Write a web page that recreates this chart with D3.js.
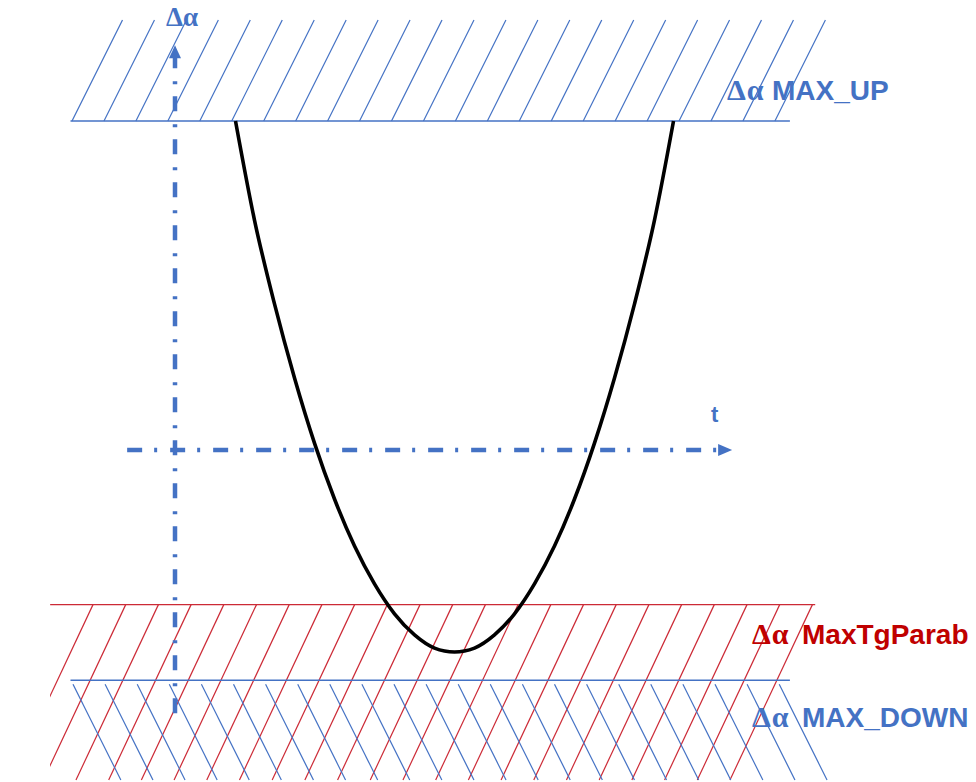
<!DOCTYPE html>
<html>
<head>
<meta charset="utf-8">
<script src="https://cdn.jsdelivr.net/npm/d3@7"></script>
<style>
  body { margin: 0; background: #fff; }
</style>
</head>
<body>
<div id="chart"></div>
<script>
// limites de Δα (mêmes unités que l'axe vertical)
var limitNames  = ["MAX_UP", "MaxTgParab", "MAX_DOWN"];
var limitValues = [100, -47, -70];

// parabole : t et Δα
var curveT  = [11.0, 14.45, 18.09, 21.73, 25.36, 29.0, 32.64, 36.27, 39.91, 43.55, 47.18, 50.82,
               54.45, 58.09, 61.73, 65.36, 69.0, 72.64, 76.27, 79.91, 83.55, 87.18, 90.64];
var curveDa = [100, 69.9, 44.4, 21.9, 2.1, -14.9, -29.2, -40.7, -49.8, -56.2, -60.2, -61.4,
               -60.2, -56.2, -49.8, -40.7, -29.2, -14.9, 2.1, 21.9, 44.4, 69.9, 100];

// libellés des axes
var axisLabels = ["Δα", "t"];

var width = 976, height = 782;
var blue = "#4472c4", red = "#c00000", redLine = "#cc2a36";

var svg = d3.select("#chart")
  .append("svg")
    .attr("width", width)
    .attr("height", height);

// échelles : t horizontal, Δα vertical
var x = d3.scaleLinear().domain([0, 100]).range([175, 725]);
var y = d3.scaleLinear().domain([0, 100]).range([450, 121]);

var yUp = y(limitValues[0]), yTg = y(limitValues[1]), yDown = y(limitValues[2]);

// zone hachurée au-dessus de MAX_UP
svg.append("g").selectAll("line")
  .data(d3.range(23))
  .enter().append("line")
    .attr("x1", function(i) { return 72 + i * 31.95; })
    .attr("y1", yUp)
    .attr("x2", function(i) { return 72 + i * 31.95 + 0.5 * (yUp - 20); })
    .attr("y2", 20)
    .attr("stroke", blue)
    .attr("stroke-width", 1.2);

// zone hachurée sous MaxTgParab (rouge)
svg.append("clipPath").attr("id", "clipRed")
  .append("rect").attr("x", 50).attr("y", 0).attr("width", width).attr("height", height);

svg.append("g").attr("clip-path", "url(#clipRed)").selectAll("line")
  .data(d3.range(23))
  .enter().append("line")
    .attr("x1", function(i) { return 93 + i * 32.7; })
    .attr("y1", yTg)
    .attr("x2", function(i) { return 93 + i * 32.7 - 0.47 * (780 - yTg); })
    .attr("y2", 780)
    .attr("stroke", redLine)
    .attr("stroke-width", 1.2);

// zone hachurée sous MAX_DOWN (bleu, autre sens)
svg.append("g").selectAll("line")
  .data(d3.range(23))
  .enter().append("line")
    .attr("x1", function(i) { return 73 + i * 32.1; })
    .attr("y1", yDown + 4)
    .attr("x2", function(i) { return 73 + i * 32.1 + 0.5 * (780 - yDown - 4); })
    .attr("y2", 780)
    .attr("stroke", blue)
    .attr("stroke-width", 1.2);

// lignes des limites
var limitExtent = [[-19, 111.8], [-22.7, 116.4], [-19, 111.8]];
var limitColor = [blue, redLine, blue];
svg.append("g").selectAll("line")
  .data(limitValues)
  .enter().append("line")
    .attr("x1", function(d, i) { return x(limitExtent[i][0]); })
    .attr("x2", function(d, i) { return x(limitExtent[i][1]); })
    .attr("y1", function(d) { return y(d); })
    .attr("y2", function(d) { return y(d); })
    .attr("stroke", function(d, i) { return limitColor[i]; })
    .attr("stroke-width", 1.4);

// axes en trait mixte avec flèches
var dash = "15,12,3,13";
var vTip = y(123), hTip = x(101.3);
svg.append("line")
  .attr("x1", x(0)).attr("y1", y(-80))
  .attr("x2", x(0)).attr("y2", vTip + 12)
  .attr("stroke", blue).attr("stroke-width", 4.5)
  .attr("stroke-dasharray", dash);
svg.append("path")
  .attr("d", "M" + x(0) + "," + vTip + "L" + (x(0) - 6) + "," + (vTip + 13) + "L" + (x(0) + 6) + "," + (vTip + 13) + "Z")
  .attr("fill", blue);

svg.append("line")
  .attr("x1", x(-8.7)).attr("y1", y(0))
  .attr("x2", hTip - 13).attr("y2", y(0))
  .attr("stroke", blue).attr("stroke-width", 4.5)
  .attr("stroke-dasharray", dash);
svg.append("path")
  .attr("d", "M" + hTip + "," + y(0) + "L" + (hTip - 14) + "," + (y(0) - 6) + "L" + (hTip - 14) + "," + (y(0) + 6) + "Z")
  .attr("fill", blue);

// la parabole
var pts = curveT.map(function(t, i) { return [t, curveDa[i]]; });
svg.append("path")
  .datum(pts)
  .attr("fill", "none")
  .attr("stroke", "#000")
  .attr("stroke-width", 3.6)
  .attr("d", d3.line()
    .curve(d3.curveMonotoneX)
    .x(function(d) { return x(d[0]); })
    .y(function(d) { return y(d[1]); }));

// libellés des axes
svg.append("text")
  .attr("x", 166).attr("y", 26)
  .attr("font-family", "Liberation Serif, serif")
  .attr("font-weight", "bold")
  .attr("font-size", 27)
  .attr("fill", blue)
  .text(axisLabels[0]);
svg.append("text")
  .attr("x", 711).attr("y", 422)
  .attr("font-family", "Liberation Sans, sans-serif")
  .attr("font-weight", "bold")
  .attr("font-size", 22)
  .attr("fill", blue)
  .text(axisLabels[1]);

// libellés des limites
var labelX = [727, 752, 752], labelNameX = [772, 802, 802];
var labelY = [100, 644, 727];
var labelColor = [blue, red, blue];
limitNames.forEach(function(name, i) {
  var t = svg.append("text")
    .attr("y", labelY[i])
    .attr("fill", labelColor[i])
    .attr("font-weight", "bold");
  t.append("tspan")
    .attr("x", labelX[i])
    .attr("font-family", "Liberation Serif, serif")
    .attr("font-size", 30)
    .attr("letter-spacing", 1)
    .text("Δα");
  t.append("tspan")
    .attr("x", labelNameX[i])
    .attr("font-family", "Liberation Sans, sans-serif")
    .attr("font-size", 28)
    .text(name);
});
</script>
</body>
</html>
